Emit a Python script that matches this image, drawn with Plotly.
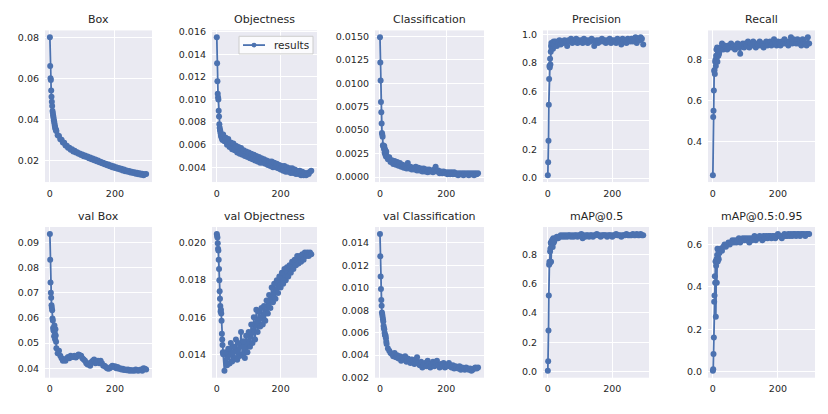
import plotly.graph_objects as go
from plotly.subplots import make_subplots

# epochs: every epoch for the first 20, then every 4th epoch
epochs = list(range(0, 20)) + list(range(20, 300, 4))

titles = ["Box", "Objectness", "Classification", "Precision", "Recall",
          "val Box", "val Objectness", "val Classification", "mAP@0.5", "mAP@0.5:0.95"]

box = [0.0800, 0.0660, 0.0600, 0.0592, 0.0540, 0.0510, 0.0485, 0.0465, 0.0440, 0.0430,
       0.0420, 0.0410, 0.0398, 0.0390, 0.0380, 0.0370, 0.0362, 0.0355, 0.0350, 0.0345,
       0.0343, 0.0322, 0.0318, 0.0302, 0.0300, 0.0286, 0.0285, 0.0272, 0.0271, 0.0261,
       0.0261, 0.0251, 0.0253, 0.0243, 0.0246, 0.0237, 0.0239, 0.0231, 0.0233, 0.0225,
       0.0228, 0.0219, 0.0223, 0.0215, 0.0218, 0.0210, 0.0213, 0.0205, 0.0208, 0.0200,
       0.0203, 0.0195, 0.0198, 0.0190, 0.0193, 0.0185, 0.0188, 0.0180, 0.0183, 0.0175,
       0.0179, 0.0170, 0.0174, 0.0166, 0.0170, 0.0162, 0.0166, 0.0158, 0.0162, 0.0154,
       0.0158, 0.0150, 0.0154, 0.0146, 0.0150, 0.0143, 0.0147, 0.0140, 0.0144, 0.0137,
       0.0141, 0.0134, 0.0139, 0.0131, 0.0136, 0.0129, 0.0134, 0.0127, 0.0131, 0.0133]

objectness = [0.0155, 0.0132, 0.0116, 0.0105, 0.0102, 0.0100, 0.0090, 0.0085, 0.0078, 0.0075,
              0.0073, 0.0072, 0.0070, 0.0068, 0.0067, 0.0069, 0.0066, 0.0065, 0.0064, 0.0066,
              0.0069, 0.0063, 0.0066, 0.0060, 0.0065, 0.0058, 0.0062, 0.0056, 0.0061, 0.0055,
              0.0059, 0.0053, 0.0058, 0.0052, 0.0057, 0.0051, 0.0055, 0.0050, 0.0054, 0.0049,
              0.0053, 0.0048, 0.0052, 0.0047, 0.0051, 0.0046, 0.0050, 0.0045, 0.0049, 0.0044,
              0.0048, 0.0044, 0.0047, 0.0043, 0.0046, 0.0042, 0.0045, 0.0041, 0.0045, 0.0040,
              0.0044, 0.0040, 0.0043, 0.0039, 0.0042, 0.0038, 0.0041, 0.0037, 0.0041, 0.0036,
              0.0040, 0.0036, 0.0039, 0.0035, 0.0039, 0.0035, 0.0038, 0.0034, 0.0037, 0.0034,
              0.0037, 0.0033, 0.0036, 0.0033, 0.0035, 0.0033, 0.0035, 0.0034, 0.0036, 0.0037]

classification = [0.0149, 0.0122, 0.0103, 0.0080, 0.0069, 0.0057, 0.0047, 0.0045, 0.0043, 0.0034,
                  0.0033, 0.0032, 0.0030, 0.0033, 0.0026, 0.0030, 0.0024, 0.0028, 0.0022, 0.0027,
                  0.0023, 0.0019, 0.0021, 0.0016, 0.0018, 0.0014, 0.0017, 0.0013, 0.0016, 0.0012,
                  0.0015, 0.0011, 0.0013, 0.0010, 0.0012, 0.0009, 0.0015, 0.0009, 0.0011, 0.0008,
                  0.0010, 0.0008, 0.0011, 0.0007, 0.0010, 0.0007, 0.0009, 0.0006, 0.0009, 0.0006,
                  0.0008, 0.0005, 0.0008, 0.0006, 0.0007, 0.0005, 0.0008, 0.0011, 0.0006, 0.0007,
                  0.0004, 0.0006, 0.0004, 0.0006, 0.0004, 0.0005, 0.0003, 0.0005, 0.0003, 0.0005,
                  0.0003, 0.0005, 0.0003, 0.0004, 0.0002, 0.0004, 0.0003, 0.0004, 0.0002, 0.0004,
                  0.0003, 0.0004, 0.0002, 0.0004, 0.0003, 0.0004, 0.0002, 0.0004, 0.0003, 0.0004]

precision = [0.02, 0.11, 0.26, 0.51, 0.69, 0.78, 0.77, 0.83, 0.79, 0.88,
             0.92, 0.94, 0.90, 0.93, 0.92, 0.94, 0.90, 0.93, 0.95, 0.92,
             0.93, 0.95, 0.92, 0.94, 0.96, 0.93, 0.95, 0.94, 0.96, 0.95,
             0.92, 0.96, 0.95, 0.97, 0.94, 0.96, 0.95, 0.97, 0.94, 0.96,
             0.95, 0.96, 0.94, 0.97, 0.95, 0.96, 0.94, 0.96, 0.95, 0.97,
             0.96, 0.92, 0.95, 0.96, 0.94, 0.96, 0.95, 0.97, 0.95, 0.96,
             0.94, 0.96, 0.95, 0.97, 0.94, 0.96, 0.95, 0.96, 0.94, 0.97,
             0.95, 0.96, 0.93, 0.97, 0.95, 0.96, 0.94, 0.97, 0.96, 0.95,
             0.97, 0.95, 0.96, 0.98, 0.94, 0.97, 0.96, 0.98, 0.97, 0.93]

recall = [0.235, 0.52, 0.55, 0.65, 0.745, 0.75, 0.73, 0.79, 0.80, 0.77,
          0.82, 0.85, 0.81, 0.86, 0.79, 0.83, 0.84, 0.82, 0.85, 0.83,
          0.84, 0.86, 0.88, 0.85, 0.87, 0.86, 0.85, 0.87, 0.86, 0.88,
          0.86, 0.87, 0.85, 0.87, 0.88, 0.86, 0.83, 0.87, 0.88, 0.86,
          0.88, 0.87, 0.89, 0.86, 0.88, 0.87, 0.89, 0.88, 0.86, 0.88,
          0.87, 0.89, 0.87, 0.88, 0.86, 0.88, 0.89, 0.87, 0.88, 0.89,
          0.87, 0.88, 0.90, 0.88, 0.87, 0.89, 0.88, 0.87, 0.89, 0.88,
          0.90, 0.88, 0.89, 0.87, 0.89, 0.91, 0.88, 0.90, 0.89, 0.88,
          0.90, 0.88, 0.89, 0.87, 0.90, 0.89, 0.88, 0.87, 0.91, 0.88]

val_box = [0.0933, 0.0830, 0.0740, 0.0700, 0.0680, 0.0650, 0.0640, 0.0630, 0.0598, 0.0590,
           0.0560, 0.0550, 0.0560, 0.0527, 0.0570, 0.0540, 0.0515, 0.0555, 0.0530, 0.0505,
           0.0480, 0.0460, 0.0470, 0.0450, 0.0440, 0.0430, 0.0435, 0.0430, 0.0440, 0.0445,
           0.0440, 0.0450, 0.0445, 0.0445, 0.0450, 0.0443, 0.0448, 0.0455, 0.0452, 0.0450,
           0.0440, 0.0435, 0.0430, 0.0420, 0.0415, 0.0420, 0.0410, 0.0425, 0.0430, 0.0435,
           0.0420, 0.0425, 0.0430, 0.0420, 0.0430, 0.0420, 0.0410, 0.0410, 0.0405, 0.0400,
           0.0398, 0.0400, 0.0405, 0.0410, 0.0405, 0.0408, 0.0400, 0.0405, 0.0398, 0.0400,
           0.0395, 0.0398, 0.0393, 0.0395, 0.0392, 0.0395, 0.0390, 0.0393, 0.0390, 0.0392,
           0.0390, 0.0395, 0.0392, 0.0390, 0.0393, 0.0395, 0.0390, 0.0400, 0.0398, 0.0395]

val_objectness = [0.0205, 0.0204, 0.0203, 0.0200, 0.0197, 0.0196, 0.0191, 0.0186, 0.0180, 0.0174,
                  0.0170, 0.0166, 0.0163, 0.0164, 0.0162, 0.0158, 0.0151, 0.0148, 0.0145, 0.0141,
                  0.0140, 0.0131, 0.0141, 0.0134, 0.0143, 0.0135, 0.0146, 0.0136, 0.0144, 0.0138,
                  0.0148, 0.0137, 0.0146, 0.0139, 0.0152, 0.0140, 0.0147, 0.0138, 0.0150, 0.0141,
                  0.0152, 0.0144, 0.0156, 0.0146, 0.0160, 0.0148, 0.0164, 0.0152, 0.0163, 0.0155,
                  0.0165, 0.0156, 0.0166, 0.0158, 0.0169, 0.0162, 0.0172, 0.0165, 0.0176, 0.0168,
                  0.0178, 0.0170, 0.0180, 0.0173, 0.0182, 0.0176, 0.0184, 0.0178, 0.0186, 0.0180,
                  0.0187, 0.0182, 0.0188, 0.0184, 0.0190, 0.0186, 0.0191, 0.0188, 0.0193, 0.0189,
                  0.0193, 0.0190, 0.0194, 0.0191, 0.0195, 0.0193, 0.0195, 0.0193, 0.0195, 0.0194]

val_classification = [0.0148, 0.0128, 0.0110, 0.0099, 0.0089, 0.0084, 0.0078, 0.0076, 0.0074, 0.0072,
                      0.0070, 0.0066, 0.0064, 0.0063, 0.0060, 0.0058, 0.0058, 0.0057, 0.0055, 0.0052,
                      0.0050, 0.0046, 0.0044, 0.0042, 0.0041, 0.0039, 0.0042, 0.0038, 0.0040, 0.0037,
                      0.0039, 0.0035, 0.0038, 0.0036, 0.0039, 0.0034, 0.0037, 0.0035, 0.0033, 0.0036,
                      0.0034, 0.0032, 0.0036, 0.0038, 0.0033, 0.0031, 0.0034, 0.0029, 0.0031, 0.0033,
                      0.0030, 0.0035, 0.0032, 0.0029, 0.0031, 0.0034, 0.0030, 0.0033, 0.0035, 0.0031,
                      0.0029, 0.0032, 0.0030, 0.0033, 0.0029, 0.0031, 0.0030, 0.0033, 0.0031, 0.0029,
                      0.0031, 0.0028, 0.0030, 0.0029, 0.0028, 0.0030, 0.0027, 0.0029, 0.0028, 0.0027,
                      0.0029, 0.0028, 0.0027, 0.0028, 0.0026, 0.0027, 0.0028, 0.0029, 0.0028, 0.0029]

map50 = [0.005, 0.07, 0.28, 0.52, 0.73, 0.75, 0.74, 0.82, 0.84, 0.88,
         0.75, 0.87, 0.89, 0.86, 0.90, 0.85, 0.89, 0.91, 0.88, 0.90,
         0.89, 0.91, 0.92, 0.91, 0.92, 0.93, 0.92, 0.93, 0.92, 0.93,
         0.92, 0.93, 0.93, 0.92, 0.93, 0.92, 0.93, 0.93, 0.92, 0.93,
         0.93, 0.94, 0.91, 0.93, 0.92, 0.93, 0.93, 0.92, 0.93, 0.93,
         0.92, 0.93, 0.93, 0.94, 0.93, 0.93, 0.92, 0.93, 0.93, 0.93,
         0.93, 0.92, 0.93, 0.93, 0.93, 0.92, 0.93, 0.93, 0.94, 0.93,
         0.93, 0.93, 0.92, 0.93, 0.93, 0.93, 0.94, 0.93, 0.93, 0.93,
         0.93, 0.94, 0.93, 0.93, 0.94, 0.93, 0.93, 0.94, 0.93, 0.93]

map50_95 = [0.005, 0.012, 0.084, 0.162, 0.33, 0.36, 0.45, 0.42, 0.52, 0.26,
            0.50, 0.53, 0.42, 0.55, 0.58, 0.52, 0.54, 0.57, 0.53, 0.56,
            0.56, 0.58, 0.57, 0.59, 0.60, 0.59, 0.60, 0.61, 0.60, 0.61,
            0.62, 0.61, 0.62, 0.61, 0.62, 0.63, 0.61, 0.62, 0.63, 0.62,
            0.63, 0.62, 0.63, 0.61, 0.63, 0.62, 0.63, 0.64, 0.62, 0.63,
            0.63, 0.64, 0.63, 0.62, 0.64, 0.63, 0.64, 0.63, 0.64, 0.64,
            0.63, 0.64, 0.64, 0.63, 0.64, 0.65, 0.64, 0.64, 0.63, 0.64,
            0.65, 0.64, 0.64, 0.65, 0.64, 0.65, 0.64, 0.65, 0.65, 0.64,
            0.65, 0.65, 0.64, 0.65, 0.65, 0.65, 0.64, 0.65, 0.65, 0.65]

x_ticks = [0, 200]
y_ticks = [
    [0.02, 0.04, 0.06, 0.08],
    [0.004, 0.006, 0.008, 0.010, 0.012, 0.014, 0.016],
    [0.0, 0.0025, 0.005, 0.0075, 0.01, 0.0125, 0.015],
    [0.0, 0.2, 0.4, 0.6, 0.8, 1.0],
    [0.2, 0.4, 0.6, 0.8],
    [0.04, 0.05, 0.06, 0.07, 0.08, 0.09],
    [0.014, 0.016, 0.018, 0.020],
    [0.002, 0.004, 0.006, 0.008, 0.010, 0.012, 0.014],
    [0.0, 0.2, 0.4, 0.6, 0.8],
    [0.0, 0.2, 0.4, 0.6],
]
y_formats = [".2f", ".3f", ".4f", ".1f", ".1f", ".2f", ".3f", ".3f", ".1f", ".1f"]
legend_label = "results"

series = [box, objectness, classification, precision, recall,
          val_box, val_objectness, val_classification, map50, map50_95]

W, H = 828, 414
col_px = [(45, 152), (212, 317), (375, 484), (543, 649), (708, 815)]
row_px = [(27, 182), (228, 382)]

COLOR = "#4C72B0"
TEXT = "#262626"
FONT = "DejaVu Sans"

fig = make_subplots(rows=2, cols=5)

for i, (title, ys) in enumerate(zip(titles, series)):
    r, c = divmod(i, 5)
    assert len(ys) == len(epochs), title
    fig.add_trace(
        go.Scatter(x=epochs, y=ys, mode="lines+markers", name=legend_label,
                   line=dict(color=COLOR, width=1.8),
                   marker=dict(color=COLOR, size=6),
                   showlegend=False),
        row=r + 1, col=c + 1)
    ax = "" if i == 0 else str(i + 1)
    x0, x1 = col_px[c]
    y0, y1 = row_px[r]
    lo, hi = min(ys), max(ys)
    pad = (hi - lo) * 0.05
    fig.layout["xaxis" + ax].update(
        domain=[x0 / W, x1 / W], range=[-15, 314],
        tickvals=x_ticks, showgrid=True, gridcolor="white", gridwidth=1,
        zeroline=False, showline=False, ticks="",
        ticklabelstandoff=4,
        tickfont=dict(family=FONT, size=9.5, color=TEXT))
    fig.layout["yaxis" + ax].update(
        domain=[1 - y1 / H, 1 - y0 / H], range=[lo - pad, hi + pad],
        tickvals=y_ticks[i], tickformat=y_formats[i],
        showgrid=True, gridcolor="white", gridwidth=1,
        zeroline=False, showline=False, ticks="",
        ticklabelstandoff=5,
        tickfont=dict(family=FONT, size=9.5, color=TEXT))
    fig.add_annotation(
        text=title, xref="paper", yref="paper",
        x=(x0 + x1) / 2 / W, y=1 - y0 / H, xanchor="center", yanchor="bottom",
        yshift=2, showarrow=False,
        font=dict(family=FONT, size=11, color=TEXT))

# legend (drawn in the Objectness panel, upper right)
lx0, lx1, ly0, ly1 = 239, 313, 33, 51
fig.add_shape(type="rect", xref="paper", yref="paper",
              x0=lx0 / W, x1=lx1 / W, y0=1 - ly1 / H, y1=1 - ly0 / H,
              fillcolor="rgba(255,255,255,0.8)", line=dict(color="#CCCCCC", width=1))
ly = (ly0 + ly1) / 2
fig.add_shape(type="line", xref="paper", yref="paper",
              x0=243 / W, x1=265 / W, y0=1 - ly / H, y1=1 - ly / H,
              line=dict(color=COLOR, width=1.8))
fig.add_shape(type="circle", xref="paper", yref="paper",
              x0=251.5 / W, x1=256.5 / W, y0=1 - (ly + 2.5) / H, y1=1 - (ly - 2.5) / H,
              fillcolor=COLOR, line=dict(color=COLOR, width=0))
fig.add_annotation(text=legend_label, xref="paper", yref="paper",
                   x=272 / W, y=1 - ly / H, xanchor="left", yanchor="middle",
                   showarrow=False, font=dict(family=FONT, size=10.5, color=TEXT))

fig.update_layout(
    width=W, height=H,
    margin=dict(l=0, r=0, t=0, b=0),
    paper_bgcolor="white",
    plot_bgcolor="#EAEAF2",
    font=dict(family=FONT, color=TEXT),
    showlegend=False,
)

fig.write_html("out.html", config={"displayModeBar": False},
               post_script="document.body.style.margin='0px';")
